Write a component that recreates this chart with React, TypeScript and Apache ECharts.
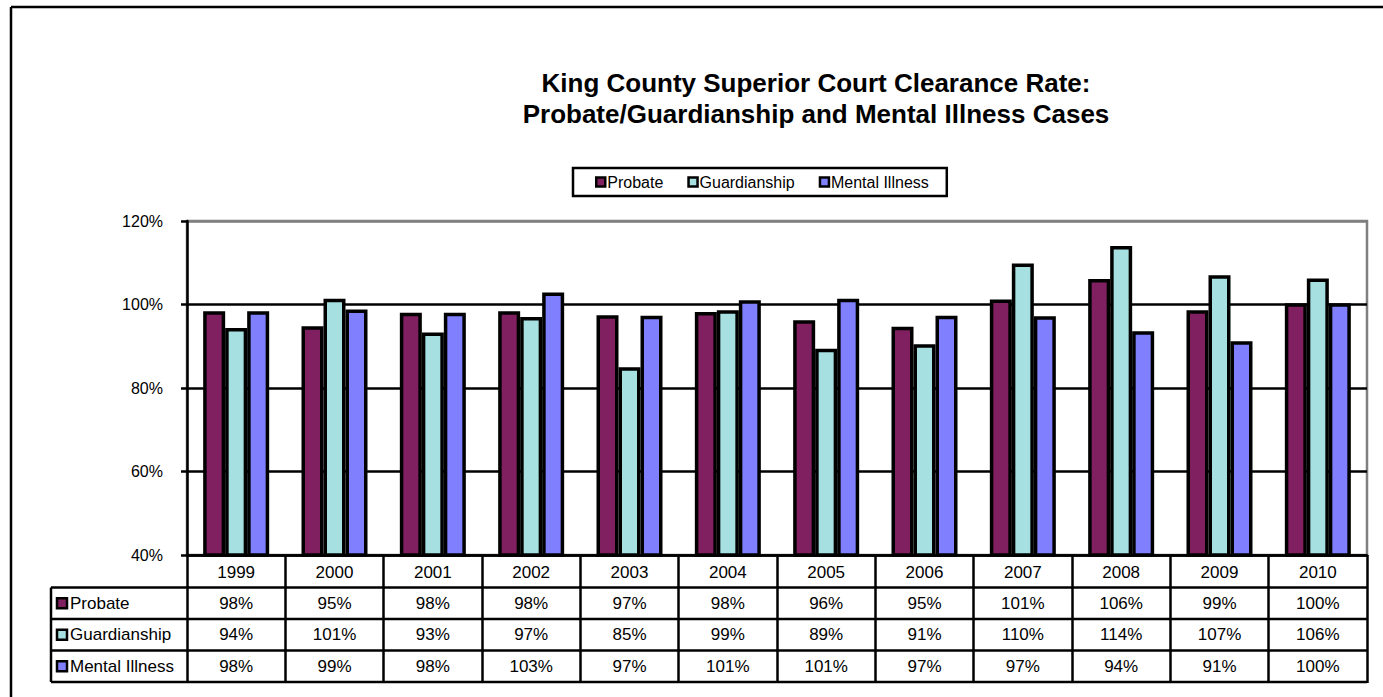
import React, { useEffect, useRef } from "react";
import * as echarts from "echarts";

const years = ["1999", "2000", "2001", "2002", "2003", "2004", "2005", "2006", "2007", "2008", "2009", "2010"];
const seriesNames = ["Probate", "Guardianship", "Mental Illness"];
const probate = [98.4, 94.8, 98.0, 98.4, 97.4, 98.2, 96.2, 94.7, 101.2, 106.1, 98.6, 100.3];
const guardianship = [94.4, 101.4, 93.3, 97.0, 85.0, 98.6, 89.4, 90.5, 109.8, 114.0, 107.0, 106.2];
const mentalIllness = [98.4, 98.8, 98.0, 102.9, 97.3, 101.0, 101.4, 97.3, 97.2, 93.6, 91.2, 100.3];
const colors = ["#802060", "#A6E0E0", "#8080FF"];

const FONT = "'Liberation Sans', Arial, sans-serif";
const W = 1383;
const H = 697;
const GRID_LEFT = 187;
const GRID_RIGHT = 16;
const GRID_TOP = 221;
const GRID_BOTTOM = 142;
const LABEL_COL_LEFT = 51;
const ROW_H = 31.5;

export default function App() {
  const ref = useRef<HTMLDivElement>(null);
  useEffect(() => {
    document.body.style.margin = "0";
    if (!ref.current) return;
    const chart = echarts.init(ref.current, undefined, { renderer: "svg" });
    const allData = [probate, guardianship, mentalIllness];
    chart.setOption({
      animation: false,
      backgroundColor: "#fff",
      title: {
        text: "King County Superior Court Clearance Rate:\nProbate/Guardianship and Mental Illness Cases",
        left: 811,
        top: 62,
        textAlign: "center",
        textStyle: { fontFamily: FONT, fontSize: 26, fontWeight: "bold", color: "#000", lineHeight: 31 },
      },
      legend: {
        data: seriesNames,
        left: 573,
        top: 168,
        padding: [6, 18, 6, 22],
        borderColor: "#000",
        borderWidth: 2.5,
        itemWidth: 9,
        itemHeight: 9,
        itemGap: 24,
        icon: "rect",
        itemStyle: { borderColor: "#000", borderWidth: 2.5 },
        textStyle: { fontFamily: FONT, fontSize: 16, color: "#000", padding: [0, 0, 0, -3] },
      },
      grid: {
        left: GRID_LEFT,
        right: GRID_RIGHT,
        top: GRID_TOP,
        bottom: GRID_BOTTOM,
        show: true,
        borderColor: "#808080",
        borderWidth: 2.5,
        backgroundColor: "#fff",
      },
      xAxis: {
        type: "category",
        data: years,
        axisLine: { show: true, lineStyle: { color: "#000", width: 2.5 } },
        axisTick: { show: true, length: 128, interval: 0, lineStyle: { color: "#000", width: 2.5 } },
        axisLabel: { fontFamily: FONT, fontSize: 17, color: "#000", margin: 9, interval: 0 },
        splitLine: { show: false },
      },
      yAxis: {
        type: "value",
        min: 40,
        max: 120,
        interval: 20,
        axisLine: { show: true, lineStyle: { color: "#000", width: 2.5 } },
        axisTick: { show: true, length: 6, lineStyle: { color: "#000", width: 2.5 } },
        axisLabel: { fontFamily: FONT, fontSize: 16, color: "#000", margin: 24, formatter: (v: number) => v + "%" },
        splitLine: { show: true, lineStyle: { color: ["#000", "#000", "#000", "#000", "#808080"], width: 2.5 } },
      },
      series: allData.map((d, i) => ({
        name: seriesNames[i],
        type: "bar",
        data: d,
        barWidth: 22,
        barGap: "0%",
        itemStyle: { color: colors[i], borderColor: "#000", borderWidth: 3.5 },
      })),
    });

    const rowTop = H - GRID_BOTTOM + ROW_H + 1;
    const tableRight = W - GRID_RIGHT;
    const graphics: any[] = [];
    graphics.push({ type: "line", shape: { x1: 11, y1: 7, x2: W, y2: 7 }, style: { stroke: "#000", lineWidth: 2.5 } });
    graphics.push({ type: "line", shape: { x1: 11, y1: 7, x2: 11, y2: H }, style: { stroke: "#000", lineWidth: 2.5 } });
    for (let r = 0; r <= 3; r++) {
      const y = rowTop + r * ROW_H;
      graphics.push({ type: "line", shape: { x1: LABEL_COL_LEFT, y1: y, x2: tableRight, y2: y }, style: { stroke: "#000", lineWidth: 2.5 } });
    }
    graphics.push({ type: "line", shape: { x1: LABEL_COL_LEFT, y1: rowTop, x2: LABEL_COL_LEFT, y2: rowTop + 3 * ROW_H }, style: { stroke: "#000", lineWidth: 2.5 } });
    seriesNames.forEach((name, r) => {
      const cy = rowTop + (r + 0.5) * ROW_H;
      graphics.push({ type: "rect", shape: { x: 57, y: cy - 5, width: 10, height: 10 }, style: { fill: colors[r], stroke: "#000", lineWidth: 2.5 } });
      graphics.push({ type: "text", x: 70, y: cy, style: { text: name, fontFamily: FONT, fontSize: 17, fill: "#000", textVerticalAlign: "middle", verticalAlign: "middle" } });
      allData[r].forEach((v, c) => {
        const px = chart.convertToPixel({ xAxisIndex: 0 }, years[c]) as number;
        graphics.push({
          type: "text",
          x: px,
          y: cy,
          style: { text: Math.round(v) + "%", fontFamily: FONT, fontSize: 17, fill: "#000", align: "center", textAlign: "center", verticalAlign: "middle", textVerticalAlign: "middle" },
        });
      });
    });
    chart.setOption({ graphic: graphics });
    return () => chart.dispose();
  }, []);
  return <div ref={ref} style={{ width: W, height: H }} />;
}
